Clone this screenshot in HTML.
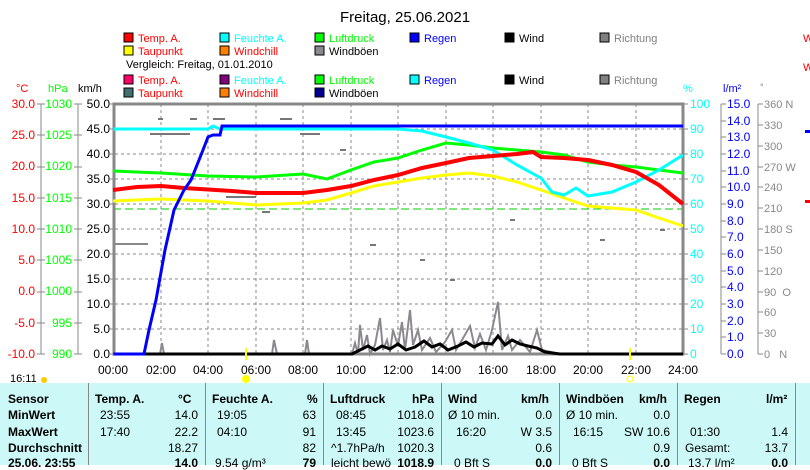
<!DOCTYPE html>
<html><head><meta charset="utf-8"><style>
body{margin:0;background:#fff;width:810px;height:465px;overflow:hidden;font-family:"Liberation Sans",sans-serif}
svg{position:absolute;left:0;top:0}
text{font-family:"Liberation Sans",sans-serif}
.tb{position:absolute;left:0;top:383px;width:810px;height:82px;background:#ccf8f8}
.c{position:absolute;top:383px;height:82px;border-left:1px solid #888}
.t{position:absolute;font-size:12px;font-family:"Liberation Sans",sans-serif;white-space:nowrap;line-height:14px}
.b{font-weight:bold}
</style></head><body>
<svg width="810" height="383" viewBox="0 0 810 383">
<text x="405" y="22" font-size="15" text-anchor="middle">Freitag, 25.06.2021</text>
<g font-size="11">
<rect x="124" y="33" width="9" height="9" fill="#f00" stroke="#000"/><text x="138" y="42" fill="#f00">Temp. A.</text>
<rect x="220" y="33" width="9" height="9" fill="#0ff" stroke="#000"/><text x="234" y="42" fill="#0ff">Feuchte A.</text>
<rect x="315" y="33" width="9" height="9" fill="#0f0" stroke="#000"/><text x="329" y="42" fill="#0f0">Luftdruck</text>
<rect x="410" y="33" width="9" height="9" fill="#00f" stroke="#000"/><text x="424" y="42" fill="#00f">Regen</text>
<rect x="505" y="33" width="9" height="9" fill="#000" stroke="#000"/><text x="519" y="42">Wind</text>
<rect x="600" y="33" width="9" height="9" fill="#808080" stroke="#000"/><text x="614" y="42" fill="#808080">Richtung</text>
<rect x="124" y="46" width="9" height="9" fill="#ff0" stroke="#000"/><text x="138" y="55" fill="#f00">Taupunkt</text>
<rect x="220" y="46" width="9" height="9" fill="#ff8000" stroke="#000"/><text x="234" y="55" fill="#f00">Windchill</text>
<rect x="315" y="46" width="9" height="9" fill="#8c8890" stroke="#000"/><text x="329" y="55">Windböen</text>
<text x="126" y="68">Vergleich: Freitag, 01.01.2010</text>
<rect x="124" y="75" width="9" height="9" fill="#f06" stroke="#000"/><text x="138" y="84" fill="#f00">Temp. A.</text>
<rect x="220" y="75" width="9" height="9" fill="#800080" stroke="#000"/><text x="234" y="84" fill="#0ff">Feuchte A.</text>
<rect x="315" y="75" width="9" height="9" fill="#0f0" stroke="#000"/><text x="329" y="84" fill="#0f0">Luftdruck</text>
<rect x="410" y="75" width="9" height="9" fill="#0ff" stroke="#000"/><text x="424" y="84" fill="#00f">Regen</text>
<rect x="505" y="75" width="9" height="9" fill="#000" stroke="#000"/><text x="519" y="84">Wind</text>
<rect x="600" y="75" width="9" height="9" fill="#808080" stroke="#000"/><text x="614" y="84" fill="#808080">Richtung</text>
<rect x="124" y="88" width="9" height="9" fill="#407070" stroke="#000"/><text x="138" y="97" fill="#f00">Taupunkt</text>
<rect x="220" y="88" width="9" height="9" fill="#ff8000" stroke="#000"/><text x="234" y="97" fill="#f00">Windchill</text>
<rect x="315" y="88" width="9" height="9" fill="#000090" stroke="#000"/><text x="329" y="97">Windböen</text>
<text x="803" y="42" fill="#f00">W</text><text x="803" y="71" fill="#f00">W</text>
<text x="16" y="92" fill="#f00">°C</text><text x="48" y="92" fill="#0f0">hPa</text><text x="78" y="92">km/h</text>
<text x="683" y="92" fill="#0ff">%</text><text x="723" y="92" fill="#00f">l/m²</text><text x="760" y="90" fill="#888" font-size="9">°</text>
</g>
<g stroke="#888" stroke-dasharray="3,3" stroke-width="1">
<line x1="115" y1="129" x2="683" y2="129"/><line x1="115" y1="154" x2="683" y2="154"/><line x1="115" y1="179" x2="683" y2="179"/><line x1="115" y1="204" x2="683" y2="204"/><line x1="115" y1="229" x2="683" y2="229"/><line x1="115" y1="254" x2="683" y2="254"/><line x1="115" y1="279" x2="683" y2="279"/><line x1="115" y1="304" x2="683" y2="304"/><line x1="115" y1="329" x2="683" y2="329"/>
<line x1="161" y1="104" x2="161" y2="354"/><line x1="208" y1="104" x2="208" y2="354"/><line x1="256" y1="104" x2="256" y2="354"/><line x1="303" y1="104" x2="303" y2="354"/><line x1="351" y1="104" x2="351" y2="354"/><line x1="398" y1="104" x2="398" y2="354"/><line x1="446" y1="104" x2="446" y2="354"/><line x1="493" y1="104" x2="493" y2="354"/><line x1="541" y1="104" x2="541" y2="354"/><line x1="588" y1="104" x2="588" y2="354"/><line x1="636" y1="104" x2="636" y2="354"/>
</g>
<g stroke="#777" stroke-width="2">
<line x1="158" y1="119" x2="163" y2="119"/><line x1="190" y1="119" x2="197" y2="119"/><line x1="213" y1="119" x2="225" y2="119"/><line x1="280" y1="119" x2="292" y2="119"/><line x1="150" y1="134" x2="190" y2="134"/><line x1="300" y1="134" x2="320" y2="134"/><line x1="226" y1="197" x2="256" y2="197"/><line x1="262" y1="212" x2="270" y2="212"/><line x1="340" y1="150" x2="346" y2="150"/><line x1="370" y1="245" x2="376" y2="245"/><line x1="420" y1="260" x2="425" y2="260"/><line x1="450" y1="280" x2="455" y2="280"/><line x1="510" y1="220" x2="515" y2="220"/><line x1="600" y1="240" x2="605" y2="240"/><line x1="660" y1="230" x2="665" y2="230"/>
</g>
<line x1="113" y1="209" x2="683" y2="209" stroke="#0c0" stroke-dasharray="8,4"/>
<line x1="113" y1="244" x2="148" y2="244" stroke="#888" stroke-width="2"/>
<rect x="114" y="104" width="569" height="250" fill="none" stroke="#888" stroke-width="3"/>
<polyline fill="none" stroke="#8c8890" stroke-width="2" points="160,354 162,343 164,354 272,354 274,340 277,354 305,354 307,340 309,354 352,354 355,343 358,354 360,325 363,350 367,335 370,354 375,345 380,318 383,350 387,340 390,352 393,330 398,346 402,322 405,350 410,310 413,345 418,330 422,350 430,338 436,352 445,342 452,330 456,350 462,340 470,326 475,348 480,334 486,350 492,330 498,302 502,350 508,336 512,350 520,340 530,352 537,330 542,350 560,354 600,354"/>
<polyline fill="none" stroke="#000" stroke-width="3" points="113,354 352,354 360,350 368,346 375,350 382,346 390,349 398,344 406,350 415,347 424,341 432,347 440,344 448,350 458,346 466,342 474,347 482,343 492,344 498,336 505,345 512,340 520,344 528,346 537,348 545,352 560,354 683,354"/>
<polyline fill="none" stroke="#ff0" stroke-width="3" points="113,201 161,199 208,201 256,205 303,203 327,200 351,193 374,186 398,182 422,178 446,175 469,173 493,176 517,182 541,190 564,198 588,206 612,208 636,210 659,218 683,226"/>
<polyline fill="none" stroke="#0f0" stroke-width="3" points="113,171 161,173 208,176 256,177 303,174 327,179 351,170 374,162 398,158 422,150 446,143 469,145 493,148 517,150 541,152 564,155 588,162 612,165 636,167 659,170 683,173"/>
<polyline fill="none" stroke="#0ff" stroke-width="3" points="113,129 208,129 213,126 220,129 351,129 398,129 422,131 446,137 469,143 493,150 517,165 541,178 552,192 564,195 576,188 588,196 612,192 636,182 659,170 683,155"/>
<polyline fill="none" stroke="#f00" stroke-width="4" points="113,190 137,187 161,186 184,188 232,191 256,193 303,193 327,190 351,186 374,180 398,175 422,168 446,163 469,158 493,156 517,154 533,152 541,157 564,158 588,160 612,165 636,172 659,185 683,204"/>
<polyline fill="none" stroke="#00f" stroke-width="3" points="113,354 144,354 149,330 156,300 165,250 174,210 184,190 191,180 203,150 208,137 213,135 220,135 222,126 683,126"/>
<g stroke="#888"><line x1="41" y1="104" x2="41" y2="354"/><line x1="78" y1="104" x2="78" y2="354"/><line x1="721" y1="104" x2="721" y2="354"/><line x1="758" y1="104" x2="758" y2="354"/>
<path d="M37 104h8M37 135h8M37 167h8M37 198h8M37 229h8M37 260h8M37 292h8M37 323h8M37 354h8 M74 104h8M74 135h8M74 167h8M74 198h8M74 229h8M74 260h8M74 292h8M74 323h8M74 354h8 M110 104h4M110 129h4M110 154h4M110 179h4M110 204h4M110 229h4M110 254h4M110 279h4M110 304h4M110 329h4M110 354h4 M683 104h5M683 129h5M683 154h5M683 179h5M683 204h5M683 229h5M683 254h5M683 279h5M683 304h5M683 329h5M683 354h5 M721 104h5M721 121h5M721 137h5M721 154h5M721 171h5M721 187h5M721 204h5M721 221h5M721 237h5M721 254h5M721 271h5M721 287h5M721 304h5M721 321h5M721 337h5M721 354h5 M758 104h5M758 125h5M758 146h5M758 167h5M758 187h5M758 208h5M758 229h5M758 250h5M758 271h5M758 292h5M758 312h5M758 333h5M758 354h5"/></g>
<g font-size="12" text-anchor="end" fill="#f00">
<text x="35" y="108">30.0</text><text x="35" y="139">25.0</text><text x="35" y="170">20.0</text><text x="35" y="202">15.0</text><text x="35" y="233">10.0</text><text x="35" y="264">5.0</text><text x="35" y="295">0.0</text><text x="35" y="327">-5.0</text><text x="35" y="358">-10.0</text></g>
<g font-size="12" text-anchor="end" fill="#0f0">
<text x="72" y="108">1030</text><text x="72" y="139">1025</text><text x="72" y="170">1020</text><text x="72" y="202">1015</text><text x="72" y="233">1010</text><text x="72" y="264">1005</text><text x="72" y="295">1000</text><text x="72" y="327">995</text><text x="72" y="358">990</text></g>
<g font-size="12" text-anchor="end">
<text x="110" y="108">50.0</text><text x="110" y="133">45.0</text><text x="110" y="158">40.0</text><text x="110" y="183">35.0</text><text x="110" y="208">30.0</text><text x="110" y="233">25.0</text><text x="110" y="258">20.0</text><text x="110" y="283">15.0</text><text x="110" y="308">10.0</text><text x="110" y="333">5.0</text><text x="110" y="358">0.0</text></g>
<g font-size="12" fill="#0ff">
<text x="690" y="108">100</text><text x="690" y="133">90</text><text x="690" y="158">80</text><text x="690" y="183">70</text><text x="690" y="208">60</text><text x="690" y="233">50</text><text x="690" y="258">40</text><text x="690" y="283">30</text><text x="690" y="308">20</text><text x="690" y="333">10</text><text x="690" y="358">0</text></g>
<g font-size="12" fill="#00f">
<text x="727" y="108">15.0</text><text x="727" y="125">14.0</text><text x="727" y="141">13.0</text><text x="727" y="158">12.0</text><text x="727" y="175">11.0</text><text x="727" y="191">10.0</text><text x="727" y="208">9.0</text><text x="727" y="225">8.0</text><text x="727" y="241">7.0</text><text x="727" y="258">6.0</text><text x="727" y="275">5.0</text><text x="727" y="291">4.0</text><text x="727" y="308">3.0</text><text x="727" y="325">2.0</text><text x="727" y="341">1.0</text><text x="727" y="358">0.0</text></g>
<g font-size="11" fill="#888">
<text x="764" y="108">360 N</text><text x="764" y="129">330</text><text x="764" y="150">300</text><text x="764" y="171">270 W</text><text x="764" y="191">240</text><text x="764" y="212">210</text><text x="764" y="233">180 S</text><text x="764" y="254">150</text><text x="764" y="275">120</text><text x="764" y="296">90 &#160;O</text><text x="764" y="316">60</text><text x="764" y="337">30</text><text x="764" y="358">0 &#160; N</text></g>
<g font-size="12" text-anchor="middle">
<text x="113" y="374">00:00</text><text x="161" y="374">02:00</text><text x="208" y="374">04:00</text><text x="256" y="374">06:00</text><text x="303" y="374">08:00</text><text x="351" y="374">10:00</text><text x="398" y="374">12:00</text><text x="446" y="374">14:00</text><text x="493" y="374">16:00</text><text x="541" y="374">18:00</text><text x="588" y="374">20:00</text><text x="636" y="374">22:00</text><text x="683" y="374">24:00</text></g>
<line x1="246" y1="348" x2="246" y2="360" stroke="#ff0" stroke-width="2"/><line x1="630" y1="348" x2="630" y2="360" stroke="#ff0" stroke-width="2"/>
<circle cx="246" cy="379" r="4" fill="#ff0"/><circle cx="630" cy="379" r="3" fill="none" stroke="#ff0"/>
<text x="10" y="382" font-size="11">16:11</text><circle cx="44" cy="380" r="3" fill="#fc0"/>
<rect x="805" y="130" width="5" height="3" fill="#00f"/><rect x="805" y="200" width="5" height="3" fill="#f00"/>
</svg>
<div class="tb"></div>
<div class="c" style="left:88px"></div><div class="c" style="left:205px"></div><div class="c" style="left:323px"></div><div class="c" style="left:441px"></div><div class="c" style="left:559px"></div><div class="c" style="left:677px"></div><div class="c" style="left:795px"></div>
<div class="t b" style="left:8px;top:392px">Sensor</div><div class="t b" style="left:8px;top:408px">MinWert</div><div class="t b" style="left:8px;top:425px">MaxWert</div><div class="t b" style="left:8px;top:441px">Durchschnitt</div><div class="t b" style="left:8px;top:456px">25.06. 23:55</div>
<div class="t b" style="left:95px;top:392px">Temp. A.</div><div class="t b" style="left:178px;top:392px">°C</div>
<div class="t" style="left:100px;top:408px">23:55</div><div class="t" style="right:612px;top:408px">14.0</div>
<div class="t" style="left:100px;top:425px">17:40</div><div class="t" style="right:612px;top:425px">22.2</div>
<div class="t" style="right:612px;top:441px">18.27</div><div class="t b" style="right:612px;top:456px">14.0</div>
<div class="t b" style="left:212px;top:392px">Feuchte A.</div><div class="t b" style="left:307px;top:392px">%</div>
<div class="t" style="left:217px;top:408px">19:05</div><div class="t" style="right:494px;top:408px">63</div>
<div class="t" style="left:217px;top:425px">04:10</div><div class="t" style="right:494px;top:425px">91</div>
<div class="t" style="right:494px;top:441px">82</div><div class="t" style="left:215px;top:456px">9.54 g/m³</div><div class="t b" style="right:494px;top:456px">79</div>
<div class="t b" style="left:330px;top:392px">Luftdruck</div><div class="t b" style="left:412px;top:392px">hPa</div>
<div class="t" style="left:336px;top:408px">08:45</div><div class="t" style="right:376px;top:408px">1018.0</div>
<div class="t" style="left:336px;top:425px">13:45</div><div class="t" style="right:376px;top:425px">1023.6</div>
<div class="t" style="left:331px;top:441px">^1.7hPa/h</div><div class="t" style="right:376px;top:441px">1020.3</div>
<div class="t" style="left:331px;top:456px">leicht bewö</div><div class="t b" style="right:376px;top:456px">1018.9</div>
<div class="t b" style="left:448px;top:392px">Wind</div><div class="t b" style="left:521px;top:392px">km/h</div>
<div class="t" style="left:448px;top:408px">Ø 10 min.</div><div class="t" style="right:258px;top:408px">0.0</div>
<div class="t" style="left:456px;top:425px">16:20</div><div class="t" style="right:258px;top:425px">W 3.5</div>
<div class="t" style="right:258px;top:441px">0.6</div><div class="t" style="left:454px;top:456px">0 Bft S</div><div class="t b" style="right:258px;top:456px">0.0</div>
<div class="t b" style="left:566px;top:392px">Windböen</div><div class="t b" style="left:639px;top:392px">km/h</div>
<div class="t" style="left:566px;top:408px">Ø 10 min.</div><div class="t" style="right:140px;top:408px">0.0</div>
<div class="t" style="left:573px;top:425px">16:15</div><div class="t" style="right:140px;top:425px">SW 10.6</div>
<div class="t" style="right:140px;top:441px">0.9</div><div class="t" style="left:572px;top:456px">0 Bft S</div><div class="t b" style="right:140px;top:456px">0.0</div>
<div class="t b" style="left:684px;top:392px">Regen</div><div class="t b" style="left:766px;top:392px">l/m²</div>
<div class="t" style="left:690px;top:425px">01:30</div><div class="t" style="right:22px;top:425px">1.4</div>
<div class="t" style="left:685px;top:441px">Gesamt:</div><div class="t" style="right:22px;top:441px">13.7</div>
<div class="t" style="left:688px;top:456px">13.7 l/m²</div><div class="t b" style="right:22px;top:456px">0.0</div>
</body></html>
